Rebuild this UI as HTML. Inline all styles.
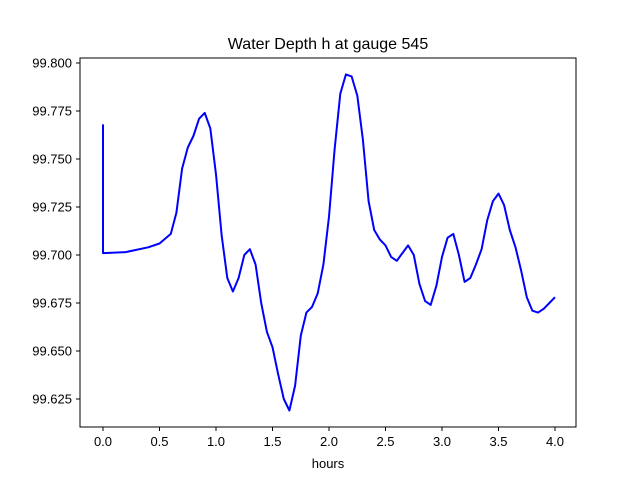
<!DOCTYPE html>
<html><head><meta charset="utf-8"><style>
body{margin:0;background:#fff;}
svg{display:block;font-family:"Liberation Sans","DejaVu Sans",sans-serif;}
</style></head><body>
<svg id="chart" width="640" height="480">
<rect x="0" y="0" width="640" height="480" fill="#fff"/>
<text x="328" y="49" font-size="16" text-anchor="middle">Water Depth h at gauge 545</text>
<g id="ticks"></g>
<path id="line" fill="none" stroke="#0000ff" stroke-width="2" stroke-linejoin="round"/>
<rect x="80" y="58" width="496" height="369" fill="none" stroke="#000" stroke-width="1"/>
<text x="328" y="468" font-size="13" text-anchor="middle">hours</text>
</svg>
<script>
const hours=[0,0,0.2,0.4,0.5,0.6,0.65,0.7,0.75,0.8,0.85,0.9,0.95,1.0,1.05,1.1,1.15,1.2,1.25,1.3,1.35,1.4,1.45,1.5,1.55,1.6,1.65,1.7,1.75,1.8,1.85,1.9,1.95,2.0,2.05,2.1,2.15,2.2,2.25,2.3,2.35,2.4,2.45,2.5,2.55,2.6,2.65,2.7,2.75,2.8,2.85,2.9,2.95,3.0,3.05,3.1,3.15,3.2,3.25,3.3,3.35,3.4,3.45,3.5,3.55,3.6,3.65,3.7,3.75,3.8,3.85,3.9,3.95,4.0];
const depth=[99.768,99.701,99.7015,99.704,99.706,99.711,99.722,99.745,99.756,99.762,99.771,99.774,99.766,99.742,99.71,99.688,99.681,99.688,99.700,99.703,99.695,99.675,99.660,99.652,99.638,99.625,99.619,99.632,99.658,99.670,99.673,99.680,99.695,99.720,99.755,99.784,99.794,99.793,99.783,99.760,99.728,99.713,99.708,99.705,99.699,99.697,99.701,99.705,99.700,99.685,99.676,99.674,99.684,99.699,99.709,99.711,99.700,99.686,99.688,99.695,99.703,99.718,99.728,99.732,99.726,99.713,99.704,99.692,99.678,99.671,99.670,99.672,99.675,99.678];
const xTicks=[0,0.5,1,1.5,2,2.5,3,3.5,4];
const xTickLabels=["0.0","0.5","1.0","1.5","2.0","2.5","3.0","3.5","4.0"];
const yTicks=[99.625,99.65,99.675,99.7,99.725,99.75,99.775,99.8];
const yTickLabels=["99.625","99.650","99.675","99.700","99.725","99.750","99.775","99.800"];
const X=v=>103+v*113;
const Y=v=>63+(99.8-v)*1920;
const NS="http://www.w3.org/2000/svg";
const g=document.getElementById('ticks');
function mk(tag,attrs){const e=document.createElementNS(NS,tag);for(const k in attrs)e.setAttribute(k,attrs[k]);return e;}
xTicks.forEach((v,i)=>{
  const l=mk('line',{x1:X(v),x2:X(v),y1:427,y2:431,stroke:'#000'});
  
  
  g.appendChild(l);
  const t=mk('text',{x:X(v),y:446,'font-size':13,'text-anchor':'middle'});
  
  
  t.textContent=xTickLabels[i];g.appendChild(t);
});
yTicks.forEach((v,i)=>{
  const l=mk('line',{x1:76,x2:80,y1:Y(v),y2:Y(v),stroke:'#000'});
  
  
  g.appendChild(l);
  const t=mk('text',{x:72,y:Y(v)+4.5,'font-size':13,'text-anchor':'end'});
  
  
  t.textContent=yTickLabels[i];g.appendChild(t);
});
document.getElementById('line').setAttribute('d',hours.map((h,i)=>(i?'L':'M')+X(h).toFixed(1)+','+Y(depth[i]).toFixed(1)).join(''));
</script>
</body></html>
